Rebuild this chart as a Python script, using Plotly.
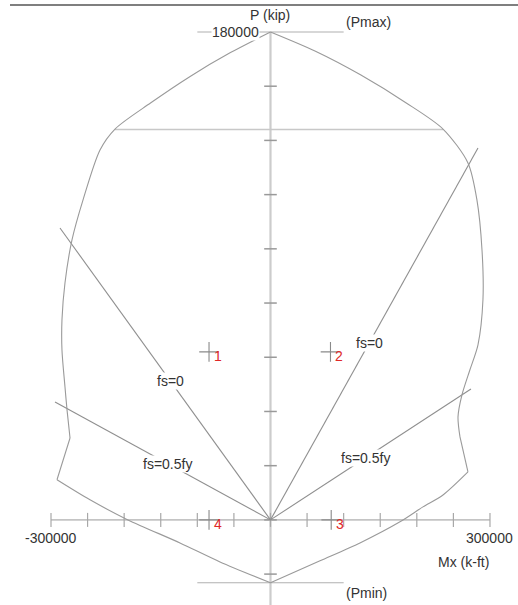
import plotly.graph_objects as go

# Interaction diagram (P-Mx) of a column section
curve_M = [0, -54700, -109300, -164000, -212500, -233000, -256300, -271300, -280900,
           -285000, -285000, -280900, -278100, -274000, -291800, -246700, -194800,
           -123700, -69000, 0, 67700, 122300, 177000, 208400, 235800, 269900, 259000,
           256300, 261700, 272500, 283600, 290400, 289100, 282200, 269900, 235800,
           184500, 123000, 61500, 0]
curve_P = [180000, 172400, 163700, 153800, 144200, 136500, 118000, 103300, 87400,
           73800, 62700, 49100, 40600, 30200, 14800, 7400, 0,
           -8500, -15500, -23200, -15100, -8500, -700, 4800, 9200, 17700, 30600,
           38000, 46100, 55300, 64600, 81200, 99600, 118000, 131700, 144200,
           154000, 164200, 172900, 180000]
# indices where the curve has a sharp corner
curve_corners = [0, 13, 14, 19, 25, 26, 39]

P_max = 180000
P_min = -23200
P_cap = 144000
cap_M = [-212500, 235800]

# Neutral-axis (steel stress) lines from the origin
stress_labels = ["fs=0", "fs=0", "fs=0.5fy", "fs=0.5fy"]
stress_end_M = [-287700, 283600, -294500, 274000]
stress_end_P = [107700, 137200, 43500, 48300]
label_frac = 0.476

# Applied load points
load_ids = ["1", "2", "3", "4"]
load_M = [-84000, 82000, 83000, -84000]
load_P = [62000, 62000, 0, 0]

x_ticks = list(range(-300000, 300001, 50000))
y_ticks = list(range(-20000, 160001, 20000))
x_tick_labels = {-300000: "-300000", 300000: "300000"}

FONT = "Liberation Sans, Arial, sans-serif"
TXT = "#333333"

fig = go.Figure()

# axes through the origin
fig.add_trace(go.Scatter(x=[x_ticks[0], x_ticks[-1]], y=[0, 0], mode="lines",
                         line=dict(color="#c4c4c4", width=1.6)))
fig.add_trace(go.Scatter(x=[0, 0], y=[P_max, -31400], mode="lines",
                         line=dict(color="#cccccc", width=2.2)))
fig.add_trace(go.Scatter(x=x_ticks, y=[0] * len(x_ticks), mode="markers",
                         marker=dict(symbol="line-ns", size=10,
                                     line=dict(color="#a8a8a8", width=1.2))))
fig.add_trace(go.Scatter(x=[0] * len(y_ticks), y=y_ticks, mode="markers",
                         marker=dict(symbol="line-ew", size=9,
                                     line=dict(color="#999999", width=1.5))))

# Pmax / Pmin / capped axial load lines
fig.add_trace(go.Scatter(x=[-100000, 100000], y=[P_max, P_max], mode="lines",
                         line=dict(color="#b0b0b0", width=1.2)))
fig.add_trace(go.Scatter(x=[-100000, 100000], y=[P_min, P_min], mode="lines",
                         line=dict(color="#b0b0b0", width=1.2)))
fig.add_trace(go.Scatter(x=cap_M, y=[P_cap, P_cap], mode="lines",
                         line=dict(color="#c8c8c8", width=1.6)))

# stress lines
for m, p in zip(stress_end_M, stress_end_P):
    fig.add_trace(go.Scatter(x=[0, m], y=[0, p], mode="lines",
                             line=dict(color="#8f8f8f", width=1.1)))

# interaction curve, smoothed between its corners
for a, b in zip(curve_corners[:-1], curve_corners[1:]):
    fig.add_trace(go.Scatter(x=curve_M[a:b + 1], y=curve_P[a:b + 1], mode="lines",
                             line=dict(color="#9a9a9a", width=1.1,
                                       shape="spline", smoothing=0.8)))

# load points
fig.add_trace(go.Scatter(x=load_M, y=load_P, mode="markers",
                         marker=dict(symbol="cross-thin", size=14,
                                     line=dict(color="#8a8a8a", width=1.1))))

ann = []
for lab, m, p in zip(stress_labels, stress_end_M, stress_end_P):
    ann.append(dict(x=m * label_frac, y=p * label_frac, text=lab, showarrow=False,
                    bgcolor="white", font=dict(family=FONT, size=14, color=TXT),
                    xanchor="center", yanchor="middle", borderpad=0))
for lab, m, p in zip(load_ids, load_M, load_P):
    ann.append(dict(x=m, y=p, text=lab, showarrow=False, xshift=9, yshift=-4,
                    font=dict(family=FONT, size=14, color="#e02828"),
                    xanchor="center", yanchor="middle"))
for v, t in x_tick_labels.items():
    ann.append(dict(x=v, y=0, text=t, showarrow=False, yshift=-18,
                    font=dict(family=FONT, size=14, color=TXT),
                    xanchor="center", yanchor="middle"))
ann += [
    dict(x=0, y=P_max, text="180000", showarrow=False, xshift=-10, bgcolor="white",
         font=dict(family=FONT, size=14, color=TXT), xanchor="right",
         yanchor="middle", borderpad=0),
    dict(x=0, y=P_max, text="P (kip)", showarrow=False, yshift=17,
         font=dict(family=FONT, size=14, color=TXT), xanchor="center",
         yanchor="middle"),
    dict(x=100000, y=P_max, text="(Pmax)", showarrow=False, yshift=10,
         font=dict(family=FONT, size=14, color=TXT), xanchor="left",
         yanchor="middle"),
    dict(x=100000, y=P_min, text="(Pmin)", showarrow=False, yshift=-10,
         font=dict(family=FONT, size=14, color=TXT), xanchor="left",
         yanchor="middle"),
    dict(x=300000, y=0, text="Mx (k-ft)", showarrow=False, xshift=-26, yshift=-42,
         font=dict(family=FONT, size=14, color=TXT), xanchor="center",
         yanchor="middle"),
]

fig.update_layout(
    width=518, height=605, autosize=False,
    margin=dict(l=0, r=0, t=0, b=0),
    paper_bgcolor="white", plot_bgcolor="white",
    showlegend=False, hovermode=False,
    xaxis=dict(range=[-369700, 338300], visible=False, fixedrange=True),
    yaxis=dict(range=[-31400, 191800], visible=False, fixedrange=True),
    annotations=ann,
    shapes=[dict(type="line", xref="paper", yref="paper",
                 x0=10 / 518, x1=1, y0=1 - 5 / 605, y1=1 - 5 / 605,
                 line=dict(color="#555555", width=1.5))],
)

fig.write_html("out.html", config={"displayModeBar": False})
